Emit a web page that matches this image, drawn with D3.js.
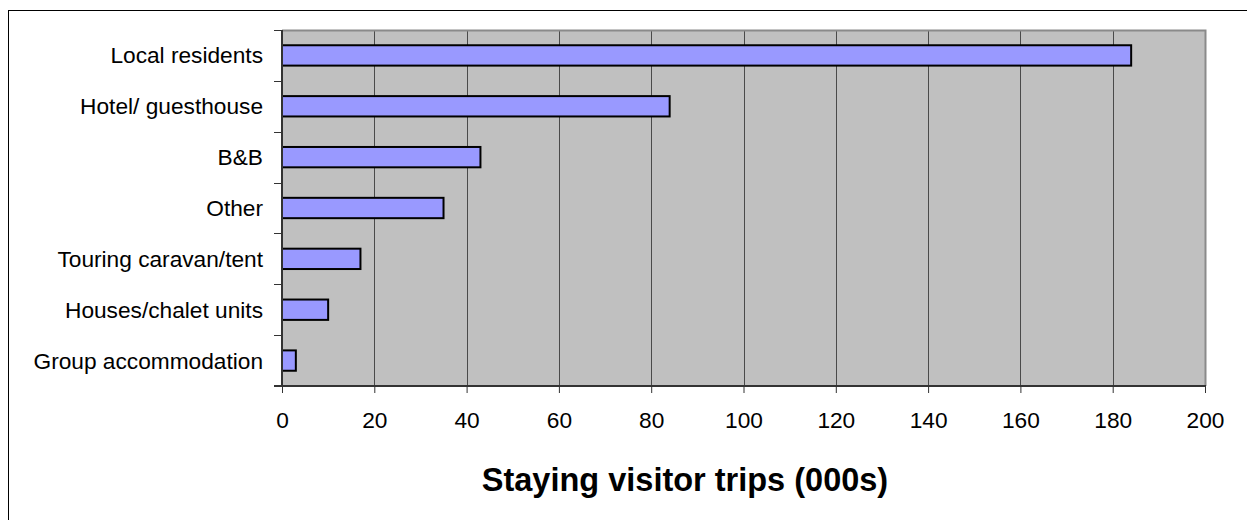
<!DOCTYPE html>
<html>
<head>
<meta charset="utf-8">
<script src="https://cdn.jsdelivr.net/npm/d3@7"></script>
<style>
  html, body { margin: 0; padding: 0; background: #fff; }
  svg { display: block; font-family: "Liberation Sans", Arial, sans-serif; }
</style>
</head>
<body>
<svg id="chart" width="1247" height="520"></svg>
<script>
// Staying visitor trips by accommodation type (thousands)
const categories = [
  "Local residents",
  "Hotel/ guesthouse",
  "B&B",
  "Other",
  "Touring caravan/tent",
  "Houses/chalet units",
  "Group accommodation"
];
const values = [184, 84, 43, 35, 17, 10, 3];
const xTicks = [0, 20, 40, 60, 80, 100, 120, 140, 160, 180, 200];
const axisTitle = "Staying visitor trips (000s)";

const svg = d3.select("#chart");

// outer frame of the chart area
svg.append("rect")
  .attr("x", 8.5).attr("y", 10.5)
  .attr("width", 1260).attr("height", 540)
  .attr("fill", "#fff").attr("stroke", "#000").attr("stroke-width", 1);

const plot = { left: 282, top: 30, right: 1205, bottom: 386 };

const x = d3.scaleLinear().domain([0, 200]).range([plot.left, plot.right]);
const y = d3.scaleBand().domain(categories).range([plot.top, plot.bottom])
  .paddingInner(0.6).paddingOuter(0.3);
const yBands = d3.scaleBand().domain(categories).range([plot.top, plot.bottom]);

// plot background
svg.append("rect")
  .attr("x", plot.left).attr("y", plot.top)
  .attr("width", plot.right - plot.left).attr("height", plot.bottom - plot.top)
  .attr("fill", "#c0c0c0");

// vertical gridlines
svg.append("g")
  .selectAll("line")
  .data(xTicks.filter(d => d > 0 && d < 200))
  .join("line")
  .attr("x1", d => Math.round(x(d)) + 0.5).attr("x2", d => Math.round(x(d)) + 0.5)
  .attr("y1", plot.top).attr("y2", plot.bottom)
  .attr("stroke", "#4a4a4a").attr("stroke-width", 1);

// plot border (top and right)
svg.append("path")
  .attr("d", `M${plot.left},${plot.top + 0.5}H${plot.right + 0.5}V${plot.bottom}`)
  .attr("fill", "none").attr("stroke", "#8a8a8a").attr("stroke-width", 2);

// bars
svg.append("g")
  .selectAll("rect")
  .data(values)
  .join("rect")
  .attr("x", x(0))
  .attr("y", (d, i) => y(categories[i]))
  .attr("width", d => x(d) - x(0))
  .attr("height", y.bandwidth())
  .attr("fill", "#9999ff")
  .attr("stroke", "#000")
  .attr("stroke-width", 2);

// x axis
const xAxis = d3.axisBottom(x).tickValues(xTicks).tickSize(7).tickPadding(18.5);
const gx = svg.append("g")
  .attr("transform", `translate(0,${plot.bottom})`)
  .call(xAxis);
gx.select(".domain").attr("stroke", "#333").attr("stroke-width", 2)
  .attr("d", `M${plot.left - 8},0H${plot.right + 1}`);
gx.selectAll(".tick line").attr("stroke", "#333");
gx.selectAll(".tick text")
  .attr("font-size", "22.7px").attr("font-family", "Liberation Sans, Arial, sans-serif")
  .attr("fill", "#000");

// y axis: ticks at band boundaries, labels at band centres
const gy = svg.append("g");
gy.append("line")
  .attr("x1", plot.left).attr("x2", plot.left)
  .attr("y1", plot.top).attr("y2", plot.bottom)
  .attr("stroke", "#333").attr("stroke-width", 2);
gy.selectAll("line.tick")
  .data(categories)
  .join("line")
  .attr("class", "tick")
  .attr("x1", plot.left - 8).attr("x2", plot.left)
  .attr("y1", d => Math.round(yBands(d)) + 0.5)
  .attr("y2", d => Math.round(yBands(d)) + 0.5)
  .attr("stroke", "#333").attr("stroke-width", 1);
gy.selectAll("text")
  .data(categories)
  .join("text")
  .attr("x", 263)
  .attr("y", d => yBands(d) + yBands.bandwidth() / 2)
  .attr("dy", "0.35em")
  .attr("text-anchor", "end")
  .attr("font-size", "22.7px")
  .attr("fill", "#000")
  .text(d => d);

// axis title
svg.append("text")
  .attr("x", 685).attr("y", 491)
  .attr("text-anchor", "middle")
  .attr("font-size", "32.5px")
  .attr("font-weight", "bold")
  .attr("fill", "#000")
  .text(axisTitle);
</script>
</body>
</html>
